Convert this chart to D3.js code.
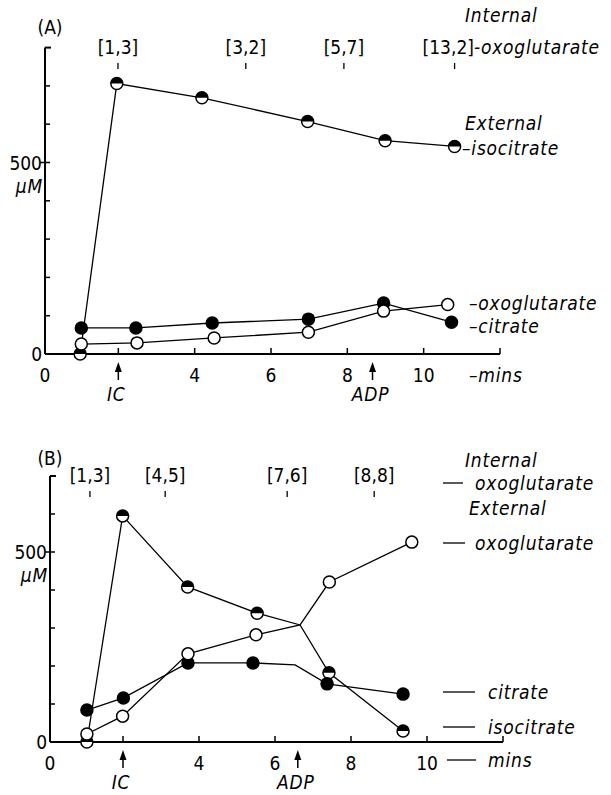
<!DOCTYPE html>
<html>
<head>
<meta charset="utf-8">
<script src="https://cdn.jsdelivr.net/npm/d3@7"></script>
<style>
  body { margin: 0; background: #fff; }
  svg { display: block; }
  text { font-family: "DejaVu Sans Condensed", "DejaVu Sans", sans-serif; font-stretch: condensed; font-size: 19px; fill: #000; }
  .it { font-style: italic; letter-spacing: 0.8px; }
</style>
</head>
<body>
<svg id="chart" width="611" height="795"></svg>
<script>
// ---- panel A data (mins, uM) ----
var aIsoT = [1.0, 1.96, 4.19, 6.96, 8.99, 10.81];
var aIsoV = [0, 706, 669, 607, 557, 542];
var aCitT = [1.03, 2.46, 4.46, 6.98, 8.95, 10.73];
var aCitV = [68, 68, 81, 91, 133, 83];
var aOxoT = [1.03, 2.49, 4.51, 6.98, 8.95, 10.63];
var aOxoV = [26, 29, 42, 57, 112, 129];
var aIntT = [1.99, 5.34, 7.91, 10.81];
var aIntLabels = ["[1,3]", "[3,2]", "[5,7]", "[13,2]"];
var aAdd = [{t: 2.0, label: "IC"}, {t: 8.66, label: "ADP"}];

// ---- panel B data ----
var bIsoT = [1.05, 1.99, 3.7, 5.53, 6.66, 7.42, 9.37];
var bIsoV = [0, 595, 408, 339, 308, 182, 29];
var bIsoMark = [1, 1, 1, 1, 0, 1, 1];
var bCitT = [1.05, 2.01, 3.71, 5.42, 6.53, 7.37, 9.37];
var bCitV = [84, 116, 208, 208, 203, 153, 126];
var bCitMark = [1, 1, 1, 1, 0, 1, 1];
var bOxoT = [1.05, 1.99, 3.71, 5.5, 6.66, 7.43, 9.6];
var bOxoV = [21, 68, 232, 282, 308, 421, 526];
var bOxoMark = [1, 1, 1, 1, 0, 1, 1];
var bIntT = [1.13, 3.11, 6.32, 8.61];
var bIntLabels = ["[1,3]", "[4,5]", "[7,6]", "[8,8]"];
var bAdd = [{t: 2.0, label: "IC"}, {t: 6.6, label: "ADP"}];

var xTickLabels = ["0", "", "4", "6", "8", "10", ""];

var svg = d3.select("#chart");

function series(T, V, M, kind) {
  return {kind: kind, pts: T.map(function(t, i) { return {t: t, v: V[i], m: M ? M[i] : 1}; })};
}

function panel(p) {
  var g = svg.append("g");
  var x = d3.scaleLinear().domain([0, 12]).range(p.xr);
  var y = d3.scaleLinear().domain([0, p.ymax]).range(p.yr);
  var ax = x(0) + 3;

  // y axis
  g.append("line").attr("x1", ax).attr("x2", ax).attr("y1", y(p.ymax)).attr("y2", y(0))
    .attr("stroke", "#000").attr("stroke-width", 2);
  g.append("line").attr("x1", ax).attr("x2", ax + 6).attr("y1", y(p.ymax)).attr("y2", y(p.ymax))
    .attr("stroke", "#000").attr("stroke-width", 2);
  g.selectAll(".yt").data(d3.range(100, p.ymax, 100)).enter().append("line")
    .attr("x1", function(d) { return d == 500 ? ax - 5 : ax; })
    .attr("x2", ax + 5)
    .attr("y1", function(d) { return y(d); }).attr("y2", function(d) { return y(d); })
    .attr("stroke", "#000").attr("stroke-width", 1.5);
  g.append("text").attr("x", ax - 3).attr("y", y(500) + 7).attr("text-anchor", "end").text("500");
  g.append("text").attr("x", ax - 3).attr("y", y(0) + 7).attr("text-anchor", "end").text("0");
  g.append("text").attr("class", "it").attr("x", ax - 2).attr("y", y(500) + 30).attr("text-anchor", "end").text("\u00b5M");

  // x axis
  g.append("line").attr("x1", ax).attr("x2", x(12)).attr("y1", y(0)).attr("y2", y(0))
    .attr("stroke", "#000").attr("stroke-width", 2);
  g.selectAll(".xt").data(d3.range(2, 13, 2)).enter().append("line")
    .attr("x1", function(d) { return x(d); }).attr("x2", function(d) { return x(d); })
    .attr("y1", y(0)).attr("y2", y(0) - 6)
    .attr("stroke", "#000").attr("stroke-width", 1.5);
  g.selectAll(".xl").data(d3.range(0, 13, 2)).enter().append("text")
    .attr("x", function(d) { return x(d) + (d == 0 ? 3 : 0); })
    .attr("y", y(0) + 28).attr("text-anchor", "middle")
    .text(function(d, i) { return xTickLabels[i]; });

  // additions (arrows)
  p.add.forEach(function(a) {
    var cx = x(a.t), y0 = y(0);
    g.append("line").attr("x1", cx).attr("x2", cx).attr("y1", y0 + 14).attr("y2", y0 + 26)
      .attr("stroke", "#000").attr("stroke-width", 1.5);
    g.append("path").attr("d", "M" + cx + "," + (y0 + 8) + "L" + (cx - 3.5) + "," + (y0 + 18) + "L" + (cx + 3.5) + "," + (y0 + 18) + "Z")
      .attr("fill", "#000");
    g.append("text").attr("class", "it").attr("x", cx - 2).attr("y", y0 + 47)
      .attr("text-anchor", "middle").text(a.label);
  });

  // internal label ticks
  p.intT.forEach(function(t, i) {
    g.append("line").attr("x1", x(t)).attr("x2", x(t)).attr("y1", p.intY + 9).attr("y2", p.intY + 15)
      .attr("stroke", "#000").attr("stroke-width", 1.3);
    if (p.lastSuffix && i == p.intT.length - 1) {
      var tx = g.append("text").attr("x", x(t) - 32).attr("y", p.intY);
      tx.append("tspan").text(p.intLabels[i]);
      tx.append("tspan").attr("class", "it").text(p.lastSuffix);
    } else {
      g.append("text").attr("x", x(t)).attr("y", p.intY).attr("text-anchor", "middle").text(p.intLabels[i]);
    }
  });

  // lines + markers
  var line = d3.line().x(function(d) { return x(d.t); }).y(function(d) { return y(d.v); });
  p.series.forEach(function(s) {
    g.append("path").attr("d", line(s.pts)).attr("fill", "none")
      .attr("stroke", "#000").attr("stroke-width", 1.3);
  });
  var r = 6;
  p.series.forEach(function(s) {
    s.pts.filter(function(d) { return d.m; }).forEach(function(d) {
      var cx = x(d.t), cy = y(d.v);
      g.append("circle").attr("cx", cx).attr("cy", cy).attr("r", r)
        .attr("fill", s.kind == "filled" ? "#000" : "#fff")
        .attr("stroke", "#000").attr("stroke-width", 1.5);
      if (s.kind == "half") {
        g.append("path").attr("d", "M" + (cx - r) + "," + cy + "A" + r + "," + r + " 0 0 1 " + (cx + r) + "," + cy + "Z")
          .attr("fill", "#000");
      }
    });
  });

  // panel letter
  g.append("text").attr("x", p.letter[0]).attr("y", p.letter[1]).attr("text-anchor", "middle").text(p.name);
  return g;
}

var gA = panel({
  name: "(A)", letter: [50, 34],
  xr: [42, 500], yr: [354, 354 - 800 * 0.383], ymax: 800,
  intT: aIntT, intLabels: aIntLabels, intY: 54, lastSuffix: "-oxoglutarate",
  add: aAdd,
  series: [series(aIsoT, aIsoV, null, "half"), series(aCitT, aCitV, null, "filled"), series(aOxoT, aOxoV, null, "open")]
});
function lab(g, xx, yy, s) { g.append("text").attr("class", "it").attr("x", xx).attr("y", yy).text(s); }
lab(gA, 465, 22, "Internal");
lab(gA, 465, 130, "External");
lab(gA, 462, 155, "\u2013isocitrate");
lab(gA, 469, 310, "\u2013oxoglutarate");
lab(gA, 469, 333, "\u2013citrate");
lab(gA, 469, 382, "\u2013mins");

var gB = panel({
  name: "(B)", letter: [50, 465],
  xr: [47, 503], yr: [742, 742 - 700 * 0.38], ymax: 700,
  intT: bIntT, intLabels: bIntLabels, intY: 482,
  add: bAdd,
  series: [series(bIsoT, bIsoV, bIsoMark, "half"), series(bCitT, bCitV, bCitMark, "filled"), series(bOxoT, bOxoV, bOxoMark, "open")]
});
function dashLab(g, x1, x2, tx, yy, s) {
  g.append("line").attr("x1", x1).attr("x2", x2).attr("y1", yy).attr("y2", yy).attr("stroke", "#000").attr("stroke-width", 1.3);
  lab(g, tx, yy + 7, s);
}
lab(gB, 465, 467, "Internal");
dashLab(gB, 443, 463, 475, 483, "oxoglutarate");
lab(gB, 469, 515, "External");
dashLab(gB, 443, 465, 475, 543, "oxoglutarate");
dashLab(gB, 443, 475, 488, 692, "citrate");
dashLab(gB, 443, 475, 488, 727, "isocitrate");
dashLab(gB, 447, 476, 488, 760, "mins");
</script>
</body>
</html>
